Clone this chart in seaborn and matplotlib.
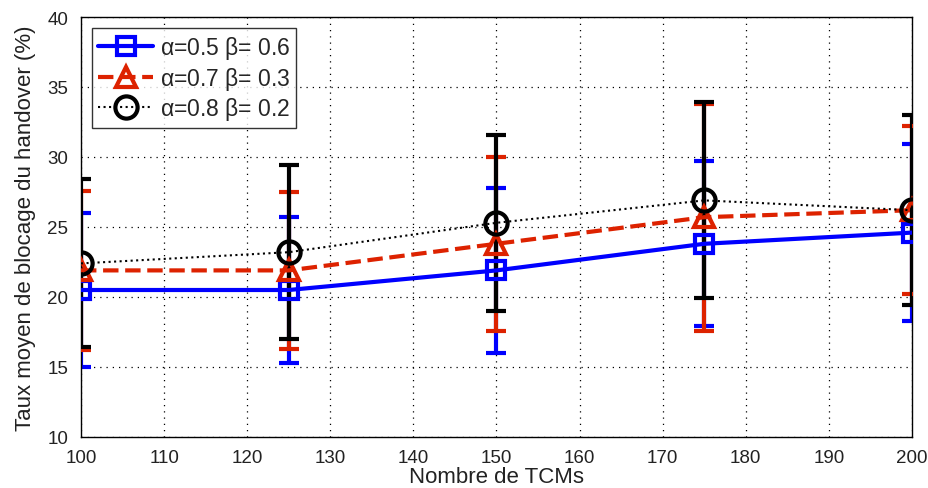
import numpy as np
import pandas as pd
import matplotlib
import matplotlib.pyplot as plt
import seaborn as sns

matplotlib.use('Agg')

# data
nb_tcms = [100, 125, 150, 175, 200]
blue_mean = [20.5, 20.5, 21.9, 23.8, 24.6]
blue_err = [5.5, 5.2, 5.9, 5.9, 6.3]
red_mean = [21.9, 21.9, 23.8, 25.7, 26.2]
red_err = [5.7, 5.6, 6.2, 8.1, 6.0]
black_mean = [22.4, 23.2, 25.3, 26.9, 26.2]
black_err = [6.0, 6.2, 6.3, 7.0, 6.8]
labels = [r'$\alpha$=0.5 $\beta$= 0.6', r'$\alpha$=0.7 $\beta$= 0.3', r'$\alpha$=0.8 $\beta$= 0.2']

sns.set_style('white')
plt.rcParams['font.family'] = ['Liberation Sans', 'DejaVu Sans']
plt.rcParams['mathtext.fontset'] = 'custom'
plt.rcParams['mathtext.rm'] = 'Liberation Sans'
plt.rcParams['mathtext.it'] = 'Liberation Sans'

fig = plt.figure(figsize=(9.29, 4.89), dpi=100)
ax = fig.add_axes([81 / 929, 51 / 489, 831 / 929, 420 / 489])

series = [
    (blue_mean, blue_err, '#0000ff', '-', 's', 3.0, 13, labels[0]),
    (red_mean, red_err, '#dd2200', '--', '^', 3.0, 14, labels[1]),
    (black_mean, black_err, 'black', ':', 'o', 1.5, 16, labels[2]),
]

for i, (mean, err, color, ls, mk, lw, ms, lab) in enumerate(series):
    ax.errorbar(nb_tcms, mean, yerr=err, fmt='none', ecolor=color,
                elinewidth=3, capsize=7, capthick=3, zorder=2 + i)
    df = pd.DataFrame({'x': nb_tcms, 'y': mean})
    sns.lineplot(data=df, x='x', y='y', ax=ax, color=color, linestyle=ls,
                 linewidth=lw, marker=mk, markersize=ms, markerfacecolor='none',
                 markeredgecolor=color, markeredgewidth=3, label=lab,
                 zorder=5 + i)

ax.set_xlim(100, 200)
ax.set_ylim(10, 40)
ax.set_xticks(np.arange(100, 201, 10))
ax.set_yticks(np.arange(10, 41, 5))
ax.tick_params(direction='in', length=5, labelsize=13.5, colors='#222222')
ax.tick_params(axis='x', pad=9)
ax.tick_params(axis='y', pad=9)
ax.grid(True, color='black', linestyle=(0, (1, 4)), linewidth=0.9)
for s in ax.spines.values():
    s.set_color('black')
    s.set_linewidth(1)

ax.set_xlabel('Nombre de TCMs', fontsize=16, color='#222222', labelpad=0)
ax.set_ylabel('Taux moyen de blocage du handover (%)', fontsize=16, color='#222222', labelpad=8)

leg = ax.legend(loc='upper left', fontsize=16.5, frameon=True, fancybox=False,
                edgecolor='black', borderaxespad=0.5, handlelength=2.4,
                handletextpad=0.3, labelspacing=0.15, borderpad=0.25)
leg.get_frame().set_linewidth(1)
leg.set_zorder(20)

plt.savefig('out.png', dpi=100)
plt.close()
